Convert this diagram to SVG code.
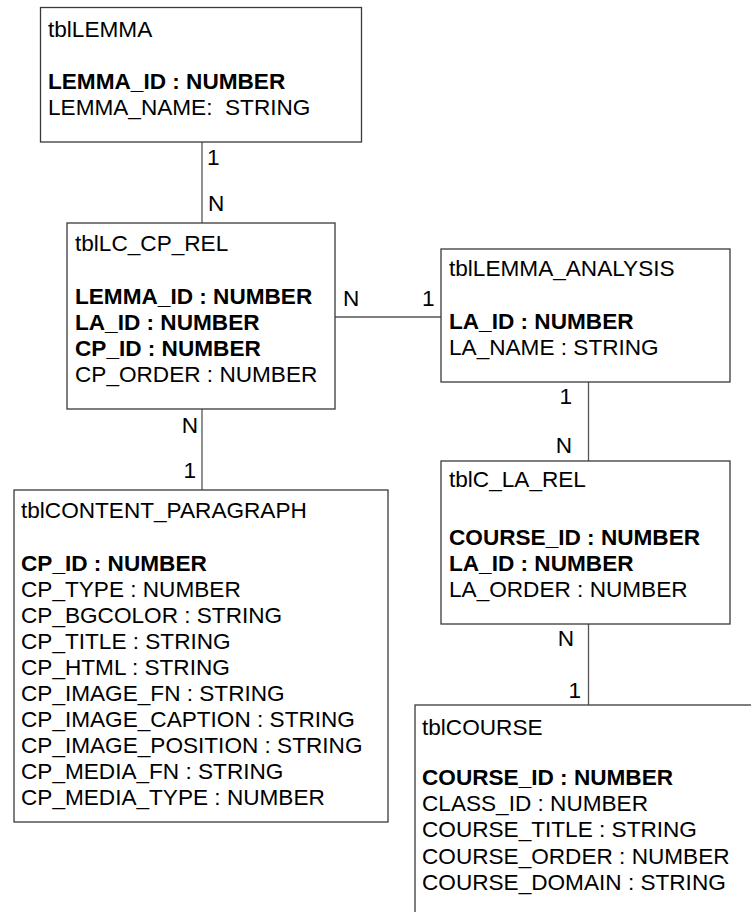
<svg xmlns="http://www.w3.org/2000/svg" width="751" height="912" viewBox="0 0 751 912">
<style>
.box{fill:#fff;stroke:#3a3a3a;stroke-width:1.3}
.con{stroke:#555;stroke-width:1.3;fill:none}
text{font-family:"Liberation Sans",Arial,sans-serif;font-size:22.6px;fill:#000}
.b{font-weight:bold}
.e{text-anchor:end}
</style>
<rect width="751" height="912" fill="#fff"/>
<g id="connectors">
<line class="con" x1="202" y1="142" x2="202" y2="223"/>
<line class="con" x1="335" y1="317" x2="441" y2="317"/>
<line class="con" x1="588.5" y1="382" x2="588.5" y2="461"/>
<line class="con" x1="588.5" y1="624" x2="588.5" y2="705"/>
<line class="con" x1="202" y1="409" x2="202" y2="490"/>
<text x="207" y="165">1</text>
<text x="208" y="211">N</text>
<text x="343" y="306">N</text>
<text x="422" y="306">1</text>
<text class="e" x="572" y="404">1</text>
<text class="e" x="572" y="453">N</text>
<text class="e" x="198" y="433">N</text>
<text class="e" x="196" y="478">1</text>
<text class="e" x="574" y="646">N</text>
<text class="e" x="581" y="698">1</text>
</g>
<g id="tblLEMMA">
<rect class="box" x="40.5" y="7.5" width="321" height="134.5"/>
<text x="48" y="37">tblLEMMA</text>
<text class="b" x="48" y="89">LEMMA_ID : NUMBER</text>
<text x="48" y="115">LEMMA_NAME:&#160; STRING</text>
</g>
<g id="tblLC_CP_REL">
<rect class="box" x="67" y="223" width="268" height="186"/>
<text x="75" y="251">tblLC_CP_REL</text>
<text class="b" x="75" y="304">LEMMA_ID : NUMBER</text>
<text class="b" x="75" y="330">LA_ID : NUMBER</text>
<text class="b" x="75" y="356">CP_ID : NUMBER</text>
<text x="75" y="382">CP_ORDER : NUMBER</text>
</g>
<g id="tblLEMMA_ANALYSIS">
<rect class="box" x="441" y="249" width="289" height="133"/>
<text x="449" y="276">tblLEMMA_ANALYSIS</text>
<text class="b" x="449" y="329">LA_ID : NUMBER</text>
<text x="449" y="355">LA_NAME : STRING</text>
</g>
<g id="tblC_LA_REL">
<rect class="box" x="441" y="461" width="289" height="163"/>
<text x="449" y="487">tblC_LA_REL</text>
<text class="b" x="449" y="545">COURSE_ID : NUMBER</text>
<text class="b" x="449" y="571">LA_ID : NUMBER</text>
<text x="449" y="597">LA_ORDER : NUMBER</text>
</g>
<g id="tblCOURSE">
<rect class="box" x="415" y="705" width="360" height="230"/>
<text x="422" y="735">tblCOURSE</text>
<text class="b" x="422" y="785">COURSE_ID : NUMBER</text>
<text x="422" y="811">CLASS_ID : NUMBER</text>
<text x="422" y="837">COURSE_TITLE : STRING</text>
<text x="422" y="864">COURSE_ORDER : NUMBER</text>
<text x="422" y="890">COURSE_DOMAIN : STRING</text>
</g>
<g id="tblCONTENT_PARAGRAPH">
<rect class="box" x="14" y="490" width="374" height="332"/>
<text x="21" y="518">tblCONTENT_PARAGRAPH</text>
<text class="b" x="21" y="571">CP_ID : NUMBER</text>
<text x="21" y="597">CP_TYPE : NUMBER</text>
<text x="21" y="623">CP_BGCOLOR : STRING</text>
<text x="21" y="649">CP_TITLE : STRING</text>
<text x="21" y="675">CP_HTML : STRING</text>
<text x="21" y="701">CP_IMAGE_FN : STRING</text>
<text x="21" y="727">CP_IMAGE_CAPTION : STRING</text>
<text x="21" y="753">CP_IMAGE_POSITION : STRING</text>
<text x="21" y="779">CP_MEDIA_FN : STRING</text>
<text x="21" y="805">CP_MEDIA_TYPE : NUMBER</text>
</g>
</svg>
